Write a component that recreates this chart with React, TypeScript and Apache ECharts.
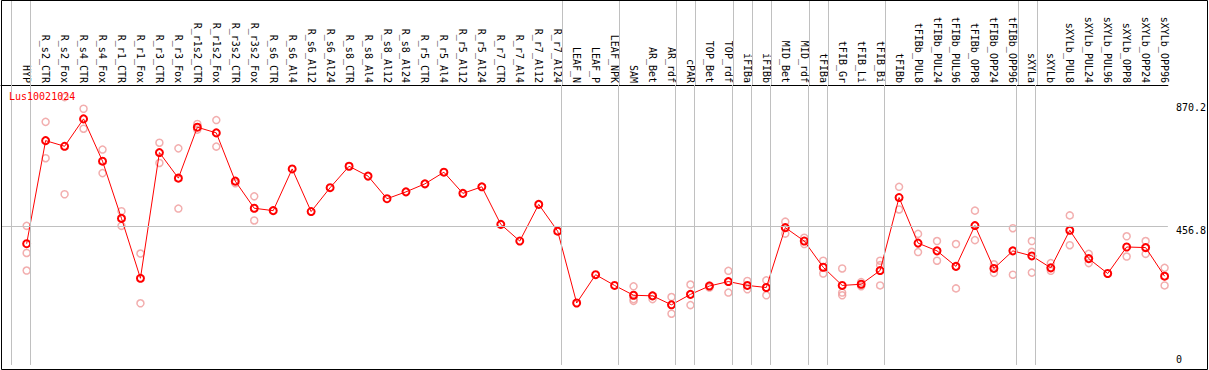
import React, { useEffect, useRef } from 'react';
import * as echarts from 'echarts';

const geneId = 'Lus10021024';

const categories = [
  'HYP', 'R_s2_CTR', 'R_s2_Fox', 'R_s4_CTR', 'R_s4_Fox', 'R_r1_CTR', 'R_r1_Fox', 'R_r3_CTR', 'R_r3_Fox',
  'R_r1s2_CTR', 'R_r1s2_Fox', 'R_r3s2_CTR', 'R_r3s2_Fox', 'R_s6_CTR', 'R_s6_Al4', 'R_s6_Al12', 'R_s6_Al24',
  'R_s8_CTR', 'R_s8_Al4', 'R_s8_Al12', 'R_s8_Al24', 'R_r5_CTR', 'R_r5_Al4', 'R_r5_Al12', 'R_r5_Al24',
  'R_r7_CTR', 'R_r7_Al4', 'R_r7_Al12', 'R_r7_Al24', 'LEAF_N', 'LEAF_P', 'LEAF_NPK', 'SAM', 'AR_Bet', 'AR_rdf',
  'cPAR', 'TOP_Bet', 'TOP_rdf', 'iFIBa', 'iFIBb', 'MID_Bet', 'MID_rdf', 'tFIBa', 'tFIB_Gr', 'tFIB_Li', 'tFIB_Bi',
  'tFIBb', 'tFIBb_PUL8', 'tFIBb_PUL24', 'tFIBb_PUL96', 'tFIBb_OPP8', 'tFIBb_OPP24', 'tFIBb_OPP96', 'sXYLa',
  'sXYLb', 'sXYLb_PUL8', 'sXYLb_PUL24', 'sXYLb_PUL96', 'sXYLb_OPP8', 'sXYLb_OPP24', 'sXYLb_OPP96',
];

const means = [
  397, 743, 724, 816, 674, 482, 281, 703, 617, 788, 769, 607, 516, 508, 648, 505, 585, 657, 624, 548, 571,
  598, 637, 566, 588, 462, 406, 529, 439, 198, 293, 257, 224, 222, 192, 227, 255, 270, 257, 250, 451, 406,
  318, 257, 261, 307, 552, 399, 373, 321, 458, 314, 373, 356, 316, 442, 347, 297, 386, 384, 288,
];

const replicates: number[][] = [
  [457, 366, 307], [806, 684], [889, 563], [850, 783], [713, 634], [506, 457], [364, 197], [736, 668],
  [717, 515], [799, 780], [812, 723], [600], [556, 475], [], [], [], [], [], [], [], [], [], [], [], [],
  [], [], [], [], [], [], [], [254, 211, 205], [223, 211], [218, 162], [260, 191], [257, 250], [306, 233],
  [272, 244], [274, 224], [471, 431], [417, 396], [340, 297], [314, 233, 224], [268, 254], [340, 325, 257],
  [588, 512], [430, 369], [406, 340], [396, 247], [508, 409], [328, 299], [449, 293], [406, 370, 300],
  [332, 306], [492, 392], [363, 332], [], [422, 354], [406, 363], [316, 257],
];

// index of the first category of each sample group (61 = end)
const groupStarts = [0, 1, 29, 32, 35, 36, 38, 39, 40, 42, 43, 46, 53, 54, 61];

const yTickValues = [0, 456.8, 870.2];

export default function App() {
  const ref = useRef<HTMLDivElement>(null);
  useEffect(() => {
    const chart = echarts.init(ref.current as HTMLDivElement, null, { renderer: 'svg' });
    const font = 'DejaVu Sans Mono';
    const repData: number[][] = [];
    replicates.forEach((r, i) => r.forEach((v) => repData.push([i, v])));
    const meanData = means.map((v, i) => [i, v]);
    const xMin = -1.3526;
    const xMax = 60.174;
    const sepLine = {
      silent: true,
      symbol: ['none', 'none'],
      label: { show: false },
      lineStyle: { color: '#c0c0c0', width: 1, type: 'solid' },
    };
    const separators = groupStarts.map((s) => ({ xAxis: s - 0.8 }));
    chart.setOption({
      animation: false,
      backgroundColor: '#ffffff',
      title: {
        text: geneId,
        left: 9,
        top: 91,
        padding: 0,
        textStyle: { color: '#ff0000', fontSize: 10, fontFamily: font, fontWeight: 'normal' },
      },
      grid: [
        { left: 1, right: 39, top: 0, height: 85 },
        { left: 1, right: 39, top: 85, bottom: 1 },
      ],
      xAxis: [
        { gridIndex: 0, type: 'value', min: xMin, max: xMax, show: false },
        {
          gridIndex: 1,
          type: 'value',
          position: 'top',
          min: xMin,
          max: xMax,
          axisLine: { show: true, onZero: false, lineStyle: { color: '#000', width: 1 } },
          axisTick: { show: false },
          splitLine: { show: false },
          axisLabel: {
            customValues: categories.map((_, i) => i),
            formatter: (v: number) => categories[Math.round(v)] ?? '',
            rotate: 90,
            hideOverlap: false,
            margin: 2,
            fontSize: 10,
            fontFamily: font,
            color: '#000',
          },
        },
      ],
      yAxis: [
        { gridIndex: 0, type: 'value', min: 0, max: 1, show: false },
        {
          gridIndex: 1,
          type: 'value',
          position: 'right',
          min: -9.93,
          max: 929.7,
          axisLine: { show: false, onZero: false },
          axisTick: { show: false },
          splitLine: { show: false },
          axisLabel: {
            customValues: yTickValues,
            margin: 8,
            align: 'left',
            verticalAlign: 'middle',
            color: '#000',
            fontSize: 10,
            fontFamily: font,
            formatter: (v: number) => (v === 0 ? `{b|${v}}` : `{t|${v}}`),
            rich: {
              t: { padding: [10, 0, 0, 0], lineHeight: 12, fontSize: 10, fontFamily: font, color: '#000' },
              b: { padding: [0, 0, 6, 0], lineHeight: 12, fontSize: 10, fontFamily: font, color: '#000' },
            },
          },
        },
      ],
      series: [
        {
          type: 'scatter',
          xAxisIndex: 0,
          yAxisIndex: 0,
          data: [],
          markLine: { ...sepLine, data: separators },
        },
        {
          type: 'scatter',
          xAxisIndex: 1,
          yAxisIndex: 1,
          z: 1,
          data: repData,
          symbol: 'circle',
          symbolSize: 7,
          itemStyle: { color: 'rgba(0,0,0,0)', borderColor: '#ef9a9a', borderWidth: 1.5 },
          emphasis: { disabled: true },
          markLine: { ...sepLine, data: [...separators, { yAxis: yTickValues[1] }] },
        },
        {
          type: 'line',
          xAxisIndex: 1,
          yAxisIndex: 1,
          z: 3,
          data: meanData,
          symbol: 'circle',
          symbolSize: 7,
          lineStyle: { color: '#ff0000', width: 1 },
          itemStyle: { color: 'rgba(0,0,0,0)', borderColor: '#ff0000', borderWidth: 2 },
          emphasis: { disabled: true },
        },
      ],
      graphic: [
        {
          type: 'rect',
          z: 100,
          silent: true,
          shape: { x: 1.5, y: 0.5, width: 1206, height: 369 },
          style: { fill: 'none', stroke: '#000', lineWidth: 1 },
        },
      ],
    });
    return () => chart.dispose();
  }, []);
  return (
    <div
      ref={ref}
      style={{ position: 'absolute', left: 0, top: 0, width: 1209, height: 370, background: '#fff' }}
    />
  );
}
